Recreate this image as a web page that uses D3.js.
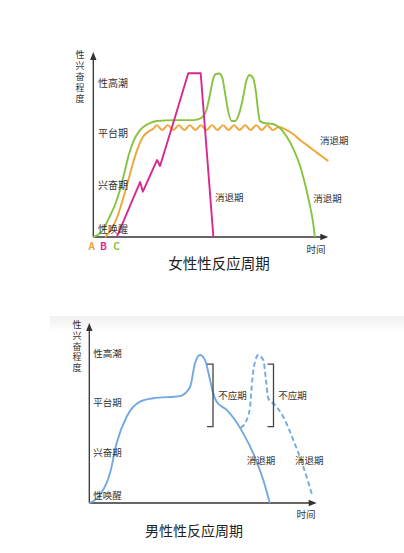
<!DOCTYPE html>
<html><head><meta charset="utf-8">
<script src="https://cdn.jsdelivr.net/npm/d3@7"></script>
<style>
html,body{margin:0;padding:0;background:#fff;}
svg{display:block;font-family:"Noto Sans CJK SC","Noto Sans",sans-serif;}
</style></head>
<body><svg id="c" width="404" height="553"></svg>
<script>
// ---------- data ----------
const stageLabels = ["性唤醒","兴奋期","平台期","性高潮"];
const stageLevels = [4.5, 28.5, 56.3, 83.3];
const yAxisTitle = "性兴奋程度";
const xAxisTitle = "时间";

// female (top) chart
const femaleTitle = "女性性反应周期";
const greenT = [0,4.1,6.7,9.2,11.6,13.5,15.2,17.3,19.9,23.3,27,34.8,42.6,45.8,48,49.7,50.9,52.2,53.5,54.8,56,57.3,58.9,60.3,62,63.7,65,66.5,68,69.2,70.1,70.9,72.6,76.5,79.4,82.4,85.4,88,90.1,92.2,93.5,94.3];
const greenA = [0,3.8,10.3,17.3,26.5,36.2,44.9,52.4,57.8,61.1,62.7,63.2,63.2,64.3,68.1,77.3,84.9,88.1,88.4,86.5,78.4,68.6,62.7,62.7,66.5,75.1,83.8,87.6,85.9,78.4,68.6,62.7,61.6,61.1,58.9,54.1,47,38.4,28.6,16.8,8.1,0];
const orangeT = [5,7.5,10.5,12.6,14.9,16.9,19.1,21.1,23.4,25.4,27.0,29.35,31.7,34.05,36.4,38.75,41.1,43.45,45.8,48.15,50.5,52.85,55.2,57.55,59.9,62.25,64.6,66.95,69.3,71.65,74.0,76.35,79,82.3,85,88,90.9,93.6,96.5,100];
const orangeA = [0,3.8,11.9,20.5,30.8,40,48.6,54,57,58.4,60.5,57.8,60.5,57.8,60.5,57.8,60.5,57.8,60.5,57.8,60.5,57.8,60.5,57.8,60.5,57.8,60.5,57.8,60.5,57.8,60.5,57.8,59.5,57.8,55.7,52.4,49.7,47,44.3,41.1];
const magentaT = [10,19.9,21.1,27.1,28.4,34.8,40.4,45.7,51.1];
const magentaA = [0,29.7,24.5,41.6,38.4,64.9,88.5,88.5,0];
const femaleFade = [
  {text:"消退期", t:51.8, a:21.8},
  {text:"消退期", t:93.6, a:20.9},
  {text:"消退期", t:96.5, a:52.4}
];
const abcLabels = ["A","B","C"];
const abcColors = ["#f0a436","#d8278e","#86c440"];

// male (bottom) chart
const maleTitle = "男性性反应周期";
const blueT = [0,4.7,9.1,12.0,16.4,22.3,28.1,39.9,44.3,46.5,48.7,50.9,53.1,54.5,56,60.4,64.1,67.7,72.1,76.5,79.4];
const blueA = [0,4.4,16.5,33.2,47.9,56.3,58.2,59.4,64.4,77.8,82.2,79.4,68.3,60.9,56.3,51.7,46.1,38.7,27.6,12.8,0];
const dashT = [66.5,69.2,70.7,71.4,72.4,74.3,76.5,77.7,78.7,81.7,85.3,89.7,94.1,98.2];
const dashA = [41.8,46.1,53.5,64.6,75.7,82.2,79.4,68.3,58.2,54.4,47.9,35,20.2,3.5];
const bracketT = [54.4, 81];
const bracketRange = [42.4, 77.2];
const refractory = [{text:"不应期", t:56.7, a:60},{text:"不应期", t:83.1, a:60}];
const maleFade = [{text:"消退期", t:69.2, a:23.9},{text:"消退期", t:90.5, a:23.9}];

// ---------- drawing ----------
const svg = d3.select("#c");
const defs = svg.append("defs");
const grad = defs.append("linearGradient").attr("id","bg").attr("x1",0).attr("y1",0).attr("x2",0).attr("y2",1);
grad.append("stop").attr("offset","0%").attr("stop-color","#f0f0f0");
grad.append("stop").attr("offset","100%").attr("stop-color","#ffffff");
svg.append("rect").attr("x",50).attr("y",316).attr("width",354).attr("height",16).attr("fill","url(#bg)");

const axisColor = "#333";
function arrowHead(g, x, y, dir){
  const p = dir==="up" ? [[x,y],[x-3.2,y+8],[x+3.2,y+8]] : [[x,y],[x-8,y-3.2],[x-8,y+3.2]];
  g.append("path").attr("d","M"+p.map(d=>d.join(",")).join("L")+"Z").attr("fill",axisColor);
}

function drawFrame(g, x, y, opt){
  const [x0,x1] = x.range(), [y0,y1] = y.range();
  g.append("line").attr("x1",x0).attr("y1",y0).attr("x2",x0).attr("y2",y1+4).attr("stroke",axisColor).attr("stroke-width",1.3);
  g.append("line").attr("x1",x0).attr("y1",y0).attr("x2",x1-4).attr("y2",y0).attr("stroke",axisColor).attr("stroke-width",1.3);
  arrowHead(g, x0, y1, "up");
  arrowHead(g, x1, y0, "right");
  // vertical y-axis title (single text, vertical writing)
  g.append("text").attr("x", opt.ytX).attr("y", opt.ytY0)
    .attr("writing-mode","tb").style("writing-mode","vertical-rl")
    .attr("letter-spacing", opt.ytSpacing)
    .attr("font-size",opt.ytSize).attr("fill","#333").text(yAxisTitle);
  g.append("text").attr("x",opt.timeX).attr("y",opt.timeY).attr("dominant-baseline","central")
    .attr("font-size",opt.smallSize).attr("fill","#333").text(xAxisTitle);
}

function stageText(g, x, y, opt){
  g.selectAll(".st").data(stageLabels).join("text")
    .attr("x", x.range()[0] + opt.stageDx).attr("y",(d,i)=>y(stageLevels[i]))
    .attr("dominant-baseline","central").attr("font-size",opt.stageSize).attr("fill","#333").text(d=>d);
}

// ---- top chart ----
const xT = d3.scaleLinear([0,100],[93.3,328.3]);
const yT = d3.scaleLinear([0,100],[237,52]);
const gT = svg.append("g");
drawFrame(gT, xT, yT, {ytX:80, ytY0:50, ytSpacing:2, ytSize:9, timeX:306.5, timeY:248.5, smallSize:9.5});

const smooth = d3.line().curve(d3.curveMonotoneX);
const toPts = (ts, as, x, y) => ts.map((t,i)=>[x(t), y(as[i])]);

gT.append("path").attr("d", smooth(toPts(orangeT, orangeA, xT, yT)))
  .attr("fill","none").attr("stroke",abcColors[0]).attr("stroke-width",1.9);
gT.append("path").attr("d", smooth(toPts(greenT, greenA, xT, yT)))
  .attr("fill","none").attr("stroke",abcColors[2]).attr("stroke-width",1.9);
gT.append("path").attr("d", d3.line()(toPts(magentaT, magentaA, xT, yT)))
  .attr("fill","none").attr("stroke",abcColors[1]).attr("stroke-width",1.9).attr("stroke-linejoin","round");

stageText(gT, xT, yT, {stageDx:4.7, stageSize:10});
gT.selectAll(".fd").data(femaleFade).join("text")
  .attr("x",d=>xT(d.t)).attr("y",d=>yT(d.a)).attr("dominant-baseline","central")
  .attr("font-size",9.5).attr("fill","#333").text(d=>d.text);
gT.selectAll(".abc").data(abcLabels).join("text")
  .attr("x",(d,i)=>[91.7,103.5,116.5][i]).attr("y",245).attr("text-anchor","middle").attr("dominant-baseline","central")
  .attr("font-size",10).attr("font-weight","bold").attr("fill",(d,i)=>abcColors[i]).text(d=>d);
gT.append("text").attr("x",219).attr("y",262).attr("text-anchor","middle").attr("dominant-baseline","central")
  .attr("font-size",14.5).attr("fill","#222").text(femaleTitle);

// ---- bottom chart ----
const xB = d3.scaleLinear([0,100],[89.3,316.7]);
const yB = d3.scaleLinear([0,100],[503,323]);
const gB = svg.append("g");
drawFrame(gB, xB, yB, {ytX:77, ytY0:320.5, ytSpacing:1.6, ytSize:9, timeX:296.5, timeY:513.5, smallSize:9.5});

const blue = "#72a9e0";
gB.append("path").attr("d", smooth(toPts(blueT, blueA, xB, yB)))
  .attr("fill","none").attr("stroke",blue).attr("stroke-width",1.9);
gB.append("path").attr("d", smooth(toPts(dashT, dashA, xB, yB)))
  .attr("fill","none").attr("stroke",blue).attr("stroke-width",1.9).attr("stroke-dasharray","5,3");

bracketT.forEach(t=>{
  const bx = xB(t), bt = yB(bracketRange[1]), bb = yB(bracketRange[0]);
  gB.append("path").attr("d",`M${bx-6},${bt}H${bx}V${bb}H${bx-6}`)
    .attr("fill","none").attr("stroke","#444").attr("stroke-width",1.3);
});
stageText(gB, xB, yB, {stageDx:4, stageSize:9.5});
gB.selectAll(".rf").data(refractory.concat(maleFade)).join("text")
  .attr("x",d=>xB(d.t)).attr("y",d=>yB(d.a)).attr("dominant-baseline","central")
  .attr("font-size",9.5).attr("fill","#333").text(d=>d.text);
gB.append("text").attr("x",194).attr("y",530).attr("text-anchor","middle").attr("dominant-baseline","central")
  .attr("font-size",14).attr("fill","#222").text(maleTitle);
</script></body></html>
